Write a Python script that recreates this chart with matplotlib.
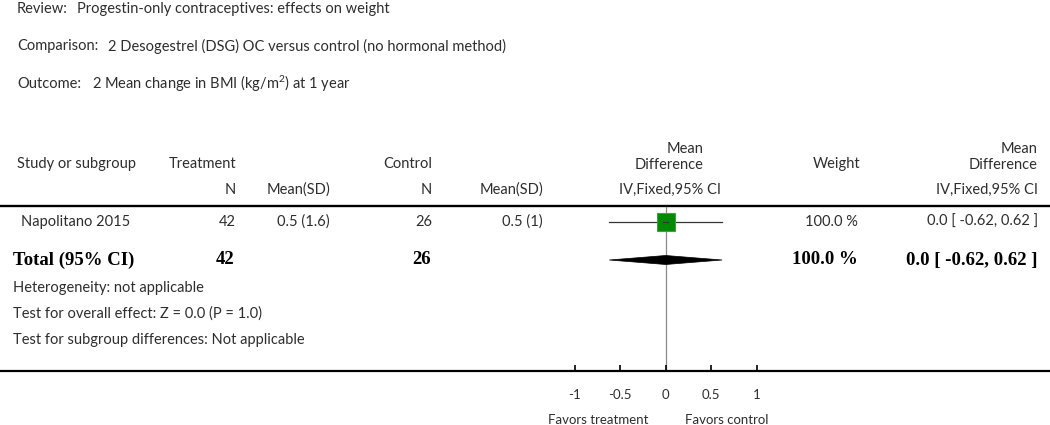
import matplotlib
matplotlib.use("Agg")
import matplotlib.pyplot as plt
from matplotlib.patches import Polygon

# ---------------- data ----------------
review = "Progestin-only contraceptives: effects on weight"
comparison = "2 Desogestrel (DSG) OC versus control (no hormonal method)"
outcome = "2 Mean change in BMI (kg/m$^{2}$) at 1 year"

studies = ["Napolitano 2015"]
treat_n = [42]
treat_mean = [0.5]
treat_sd = [1.6]
ctrl_n = [26]
ctrl_mean = [0.5]
ctrl_sd = [1]
md = [0.0]
ci_lo = [-0.62]
ci_hi = [0.62]
weights = [100.0]

total_treat_n = 42
total_ctrl_n = 26
total_md = 0.0
total_lo = -0.62
total_hi = 0.62
total_weight = 100.0

heterogeneity = "Heterogeneity: not applicable"
overall = "Test for overall effect: Z = 0.0 (P = 1.0)"
subgroup = "Test for subgroup differences: Not applicable"

ticks = [-1, -0.5, 0, 0.5, 1]
tick_labels = ["-1", "-0.5", "0", "0.5", "1"]
favors_left = "Favors treatment"
favors_right = "Favors control"

# ---------------- layout ----------------
W, H = 1050, 425
plt.rcParams['font.family'] = ['Lato', 'DejaVu Sans']
plt.rcParams['mathtext.fontset'] = 'custom'
plt.rcParams['mathtext.rm'] = 'Lato'
plt.rcParams['mathtext.it'] = 'Lato:italic'
TXT = '#2e2e2e'
FS = 10.5
SERIF = ['Liberation Serif', 'DejaVu Serif']

fig = plt.figure(figsize=(W / 100, H / 100), dpi=100)
bg = fig.add_axes([0, 0, 1, 1])
bg.set_xlim(0, W)
bg.set_ylim(H, 0)
bg.axis('off')

def t(x, y, s, ha='left', **kw):
    kw.setdefault('fontsize', FS)
    kw.setdefault('color', TXT)
    bg.text(x, y, s, ha=ha, va='center', **kw)

# title block
t(17, 9, "Review:")
t(77, 9, review)
t(17, 46, "Comparison:")
t(108, 46, comparison)
t(17, 84, "Outcome:")
t(92, 84, outcome)

# headers
yh1, yh2 = 164, 190
t(17, yh1, "Study or subgroup")
t(236, yh1, "Treatment", ha='right')
t(236, yh2, "N", ha='right')
t(330, yh2, "Mean(SD)", ha='right')
t(432, yh1, "Control", ha='right')
t(432, yh2, "N", ha='right')
t(543, yh2, "Mean(SD)", ha='right')
bg.text(703, 157, "Mean\nDifference", ha='right', va='center', multialignment='right',
        fontsize=FS, color=TXT, linespacing=1.1)
t(670, yh2, "IV,Fixed,95% CI", ha='center')
t(860, yh1, "Weight", ha='right')
bg.text(1038, 157, "Mean\nDifference", ha='right', va='center', multialignment='right',
        fontsize=FS, color=TXT, linespacing=1.1)
t(1038, yh2, "IV,Fixed,95% CI", ha='right')

# header rule
bg.plot([0, W], [206, 206], color='black', lw=1.7, solid_capstyle='butt')

# study rows
row_y = [222]
for i, s in enumerate(studies):
    y = row_y[i]
    t(130, y, s, ha='right')
    t(236, y, f"{treat_n[i]}", ha='right')
    t(330, y, f"{treat_mean[i]:g} ({treat_sd[i]:g})", ha='right')
    t(432, y, f"{ctrl_n[i]}", ha='right')
    t(543, y, f"{ctrl_mean[i]:g} ({ctrl_sd[i]:g})", ha='right')
    t(858, y, f"{weights[i]:.1f} %", ha='right')
    t(1038, y, f"{md[i]:.1f} [ {ci_lo[i]:.2f}, {ci_hi[i]:.2f} ]", ha='right')

# total row
yt = 260
bkw = dict(family=SERIF, fontweight='bold', fontsize=13.5, color='black')
t(13, yt, "Total (95% CI)", **bkw)
t(234, yt, f"{total_treat_n}", ha='right', **bkw)
t(431, yt, f"{total_ctrl_n}", ha='right', **bkw)
t(858, yt, f"{total_weight:.1f} %", ha='right', **bkw)
t(1038, yt, f"{total_md:.1f} [ {total_lo:.2f}, {total_hi:.2f} ]", ha='right', **bkw)

t(13, 288, heterogeneity)
t(13, 314, overall)
t(13, 340, subgroup)

# ---------------- forest panel ----------------
x0_px, unit_px = 665.7, 91.0
y_top, y_bot = 207, 371
fa = fig.add_axes([0, (H - y_bot) / H, 1, (y_bot - y_top) / H])
fa.set_xlim(-x0_px / unit_px, (W - x0_px) / unit_px)
fa.set_ylim(y_bot, y_top)
fa.patch.set_alpha(0)
for sp in ['top', 'left', 'right']:
    fa.spines[sp].set_visible(False)
fa.spines['bottom'].set_linewidth(1.6)
fa.set_yticks([])
fa.set_xticks(ticks)
fa.set_xticklabels(tick_labels, fontsize=9.5, color=TXT)
fa.tick_params(axis='x', direction='in', length=4, width=1.2, pad=13, color='black')

fa.axvline(0, color='#8a8a8a', lw=0.9, zorder=1)

for i in range(len(studies)):
    y = row_y[i]
    fa.plot([ci_lo[i], ci_hi[i]], [y, y], color='#333333', lw=0.9, zorder=2)
    fa.plot([md[i]], [y], marker='s', markersize=13.2, markerfacecolor='#008a00',
            markeredgecolor='#40a040', markeredgewidth=0.8, zorder=3)
    fa.plot([md[i] - 0.03, md[i] + 0.03], [y, y], color='#333333', lw=0.8, zorder=4)

dh = 4.5
fa.add_patch(Polygon([[total_lo, yt], [total_md, yt - dh], [total_hi, yt], [total_md, yt + dh]],
                     closed=True, facecolor='black', edgecolor='black', lw=0.5, zorder=3))

t(598, 420, favors_left, ha='center', fontsize=9.5)
t(727, 420, favors_right, ha='center', fontsize=9.5)

fig.savefig("out.png", dpi=100)
